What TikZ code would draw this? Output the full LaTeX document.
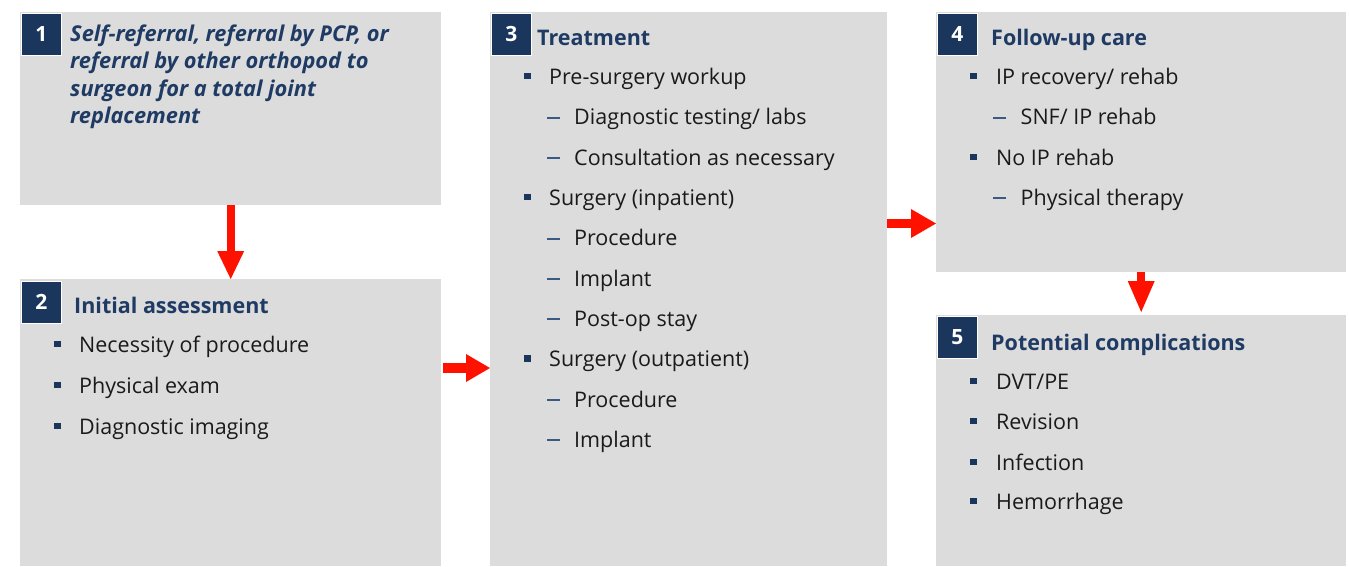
\documentclass[tikz,border=0pt]{standalone}
\usepackage{fontspec}
\setmainfont{Open Sans}
\usetikzlibrary{arrows.meta}
\definecolor{boxgray}{HTML}{DCDCDC}
\definecolor{navy}{HTML}{1B365D}
\definecolor{titleblue}{HTML}{1F3B64}
\definecolor{dashblue}{HTML}{3A5A85}
\definecolor{txt}{HTML}{1A1A1A}
\definecolor{arrowred}{HTML}{FF1100}
\begin{document}
\begin{tikzpicture}[x=1pt,y=-1pt,
  panel/.style={fill=boxgray, draw=none, anchor=north west, inner sep=0pt},
  badge/.style={fill=navy, draw=white, line width=0.8pt, anchor=north west, minimum width=40pt, minimum height=42pt, inner sep=0pt, text=white, font=\fontsize{21}{21}\selectfont\bfseries},
  title/.style={anchor=base west, inner sep=0pt, text=titleblue, font=\fontsize{21.5}{21.5}\selectfont\bfseries},
  ititle/.style={anchor=base west, inner sep=0pt, text=titleblue, font=\fontsize{21.8}{21.8}\selectfont\bfseries\itshape},
  item/.style={anchor=base west, inner sep=0pt, text=txt, font=\fontsize{21.5}{21.5}\selectfont},
  bul/.style={fill=navy, minimum size=6.5pt, inner sep=0pt},
  dsh/.style={fill=dashblue, minimum width=13.5pt, minimum height=2pt, inner sep=0pt},
  flow/.style={draw=arrowred, line width=#1}
]
\useasboundingbox (0,0) rectangle (1349,566);
% panels
\node[panel, minimum width=421pt, minimum height=193pt] (b1) at (20,12) {};
\node[panel, minimum width=421pt, minimum height=287pt] (b2) at (20,279) {};
\node[panel, minimum width=397pt, minimum height=554pt] (b3) at (490,12) {};
\node[panel, minimum width=410pt, minimum height=260pt] (b4) at (936,12) {};
\node[panel, minimum width=410pt, minimum height=251pt] (b5) at (936,315) {};
% badges
\node[badge] (n1) at (21,13) {1};
\node[badge] (n2) at (21,280.5) {2};
\node[badge] (n3) at (491,13) {3};
\node[badge] (n4) at (937,13) {4};
\node[badge] (n5) at (937,316) {5};
% box 1
\node[ititle] (t1a) at (70,41) {Self-referral, referral by PCP, or};
\node[ititle] (t1b) at (70,68.5) {referral by other orthopod to};
\node[ititle] (t1c) at (70,96) {surgeon for a total joint};
\node[ititle] (t1d) at (70,123.5) {replacement};
% box 2
\node[title] (t2) at (74,313) {Initial assessment};
\node[bul] (p2a) at (57.5,344) {};
\node[item] (i2a) at (79,352) {Necessity of procedure};
\node[bul] (p2b) at (57.5,385) {};
\node[item] (i2b) at (79,393) {Physical exam};
\node[bul] (p2c) at (57.5,426) {};
\node[item] (i2c) at (79,434) {Diagnostic imaging};
% box 3
\node[title] (t3) at (537,45) {Treatment};
\node[bul] (p3a) at (527.5,76) {};
\node[item] (i3a) at (549,84) {Pre-surgery workup};
\node[dsh] (d3a) at (553.5,118) {};
\node[item] (i3b) at (574,124.5) {Diagnostic testing/ labs};
\node[dsh] (d3b) at (553.5,158) {};
\node[item] (i3c) at (574,165) {Consultation as necessary};
\node[bul] (p3b) at (527.5,197) {};
\node[item] (i3d) at (549,205) {Surgery (inpatient)};
\node[dsh] (d3c) at (553.5,239) {};
\node[item] (i3e) at (574,245.5) {Procedure};
\node[dsh] (d3d) at (553.5,279) {};
\node[item] (i3f) at (574,286) {Implant};
\node[dsh] (d3e) at (553.5,319) {};
\node[item] (i3g) at (574,326) {Post-op stay};
\node[bul] (p3c) at (527.5,358.5) {};
\node[item] (i3h) at (549,366.5) {Surgery (outpatient)};
\node[dsh] (d3f) at (553.5,400) {};
\node[item] (i3i) at (574,407) {Procedure};
\node[dsh] (d3g) at (553.5,440) {};
\node[item] (i3j) at (574,447) {Implant};
% box 4
\node[title] (t4) at (991,45) {Follow-up care};
\node[bul] (p4a) at (973.5,76) {};
\node[item] (i4a) at (996,84) {IP recovery/ rehab};
\node[dsh] (d4a) at (999.7,118) {};
\node[item] (i4b) at (1020.5,124.5) {SNF/ IP rehab};
\node[bul] (p4b) at (973.5,157) {};
\node[item] (i4c) at (996,165) {No IP rehab};
\node[dsh] (d4b) at (999.7,198) {};
\node[item] (i4d) at (1020.5,205) {Physical therapy};
% box 5
\node[title] (t5) at (991,350) {Potential complications};
\node[bul] (p5a) at (973.5,381) {};
\node[item] (i5a) at (996,389) {DVT/PE};
\node[bul] (p5b) at (973.5,421) {};
\node[item] (i5b) at (996,429) {Revision};
\node[bul] (p5c) at (973.5,462) {};
\node[item] (i5c) at (996,470) {Infection};
\node[bul] (p5d) at (973.5,501) {};
\node[item] (i5d) at (996,509) {Hemorrhage};
% arrows
\coordinate (y23) at (0,368);
\coordinate (y34) at (0,223.5);
\draw[flow=8pt, -{Triangle[width=27pt,length=28pt,line width=0pt]}] (b1.south) -- (b2.north);
\draw[flow=10pt, -{Triangle[width=28pt,length=24pt,line width=0pt]}] ([xshift=2pt]b2.east |- y23) -- (b3.west |- y23);
\draw[flow=9pt, -{Triangle[width=29pt,length=25pt,line width=0pt]}] (b3.east |- y34) -- (b4.west |- y34);
\draw[flow=8pt, -{Triangle[width=27pt,length=31pt,line width=0pt,sep=3pt]}] (b4.south) -- (b5.north);
\end{tikzpicture}
\end{document}
